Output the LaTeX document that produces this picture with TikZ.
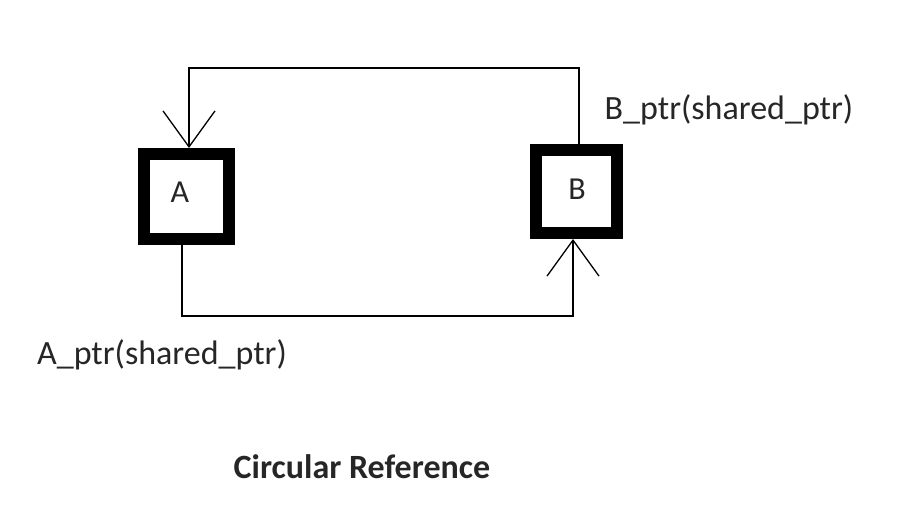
\documentclass[tikz,border=0pt]{standalone}
\usepackage{fontspec}
\setmainfont{Carlito}
\usetikzlibrary{arrows.meta,calc}
\definecolor{txt}{HTML}{262626}
\tikzset{
  thickbox/.style={draw=black, line width=12pt, fill=white, inner sep=0pt},
  conn/.style={draw=black, line width=1.6pt},
  barb/.style={-{Straight Barb[length=36pt,width=52pt,line width=1.3pt]}},
  lbl/.style={text=txt, font=\fontsize{34}{38}\selectfont, inner sep=0pt},
}
\begin{document}
\begin{tikzpicture}[x=1pt,y=1pt]
\useasboundingbox (0,0) rectangle (902,512);
% boxes
\node[thickbox, minimum width=85pt, minimum height=85pt] (boxA) at (186.5,315.5) {};
\node[thickbox, minimum width=81pt, minimum height=83pt] (boxB) at (576.5,320.5) {};
\node[lbl, font=\fontsize{32}{36}\selectfont] (la) at (180,320) {A};
\node[lbl, font=\fontsize{32}{36}\selectfont] (lb) at (577,323) {B};
% routing coordinates
\coordinate (ytop) at (0,444);
\coordinate (ybot) at (0,196);
% connectors
\draw[conn,barb] ([xshift=2.5pt]boxB.north) -- ([xshift=2.5pt]boxB.north |- ytop)
  -- ([xshift=2.5pt]boxA.north |- ytop) -- ([xshift=2.5pt]boxA.north);
\draw[conn,barb] ([xshift=-4.5pt]boxA.south) -- ([xshift=-4.5pt]boxA.south |- ybot)
  -- ([xshift=-3.5pt]boxB.south |- ybot) -- ([xshift=-3.5pt]boxB.south);
% labels
\node[lbl] (aptr) at (162,157) {A\_ptr(shared\_ptr)};
\node[lbl] (bptr) at (729,402) {B\_ptr(shared\_ptr)};
\node[lbl, font=\fontsize{34}{38}\selectfont\bfseries] (title) at (362,45) {Circular Reference};
\end{tikzpicture}
\end{document}
